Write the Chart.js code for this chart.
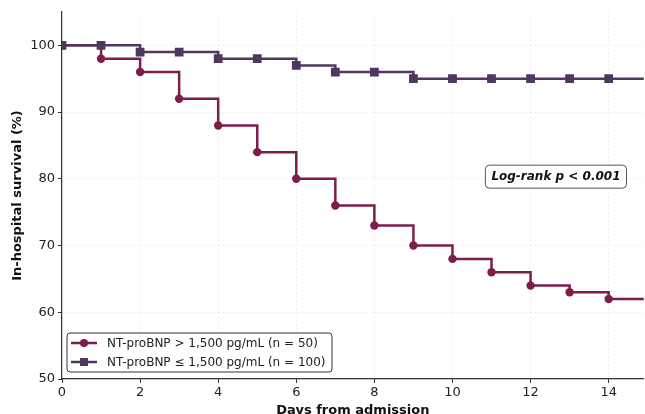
<!DOCTYPE html>
<html>
<head>
<meta charset="utf-8">
<script src="https://cdn.jsdelivr.net/npm/chart.js@4"></script>
<style>
  html, body { margin: 0; padding: 0; background: #fff; overflow: hidden; }
  #wrap { width: 645px; height: 414px; overflow: hidden; }
</style>
</head>
<body>
<div id="wrap"><canvas id="km-chart" width="650" height="414"></canvas></div>
<script>
// days since admission, survival (%) per group
var days = [0, 1, 2, 3, 4, 5, 6, 7, 8, 9, 10, 11, 12, 13, 14, 15];
var highBNP = [100, 98, 96, 92, 88, 84, 80, 76, 73, 70, 68, 66, 64, 63, 62, 62];
var lowBNP = [100, 100, 99, 99, 98, 98, 97, 96, 96, 95, 95, 95, 95, 95, 95, 95];
var seriesLabels = ["NT-proBNP > 1,500 pg/mL (n = 50)", "NT-proBNP \u2264 1,500 pg/mL (n = 100)"];
var xTicks = [0, 2, 4, 6, 8, 10, 12, 14];
var yTicks = [50, 60, 70, 80, 90, 100];
var annotationText = "Log-rank p < 0.001";

var RED = "#7d1d4a";
var PURPLE = "#4f3760";
var FONT = "'DejaVu Sans', sans-serif";

var toPoints = function(vals) {
  return days.map(function(d, i) { return { x: d, y: vals[i] }; });
};
// no marker on the final carry-forward point
var markerSize = function(r) {
  return days.map(function(d, i) { return i === days.length - 1 ? 0 : r; });
};

var overlay = {
  id: "overlay",
  afterDraw: function(chart) {
    var ctx = chart.ctx;
    var area = chart.chartArea;
    var xs = chart.scales.x, ys = chart.scales.y;

    // log-rank box
    ctx.save();
    ctx.font = "italic bold 12px " + FONT;
    var tx = xs.getPixelForValue(12.65), ty = ys.getPixelForValue(80.4);
    var tw = ctx.measureText(annotationText).width;
    ctx.beginPath();
    ctx.roundRect(tx - tw / 2 - 6, ty - 11, tw + 12, 23, 4);
    ctx.fillStyle = "#fff";
    ctx.fill();
    ctx.strokeStyle = "#555";
    ctx.lineWidth = 1;
    ctx.stroke();
    ctx.fillStyle = "#111";
    ctx.textAlign = "center";
    ctx.textBaseline = "middle";
    ctx.fillText(annotationText, tx, ty + 1);
    ctx.restore();

    // legend, lower left inside the plot
    ctx.save();
    var lx = area.left + 5, lb = area.bottom - 7;
    var bw = 265, bh = 39;
    var ly = lb - bh;
    ctx.beginPath();
    ctx.roundRect(lx, ly, bw, bh, 3);
    ctx.fillStyle = "rgba(255,255,255,0.9)";
    ctx.fill();
    ctx.strokeStyle = "#333";
    ctx.lineWidth = 1;
    ctx.stroke();
    ctx.font = "12px " + FONT;
    ctx.textBaseline = "middle";
    chart.data.datasets.forEach(function(ds, i) {
      var ry = ly + 10 + i * 19;
      ctx.strokeStyle = ds.borderColor;
      ctx.lineWidth = 2.5;
      ctx.beginPath();
      ctx.moveTo(lx + 4, ry);
      ctx.lineTo(lx + 30, ry);
      ctx.stroke();
      ctx.fillStyle = ds.borderColor;
      if (ds.pointStyle === "rect") {
        ctx.fillRect(lx + 17 - 4, ry - 4, 8, 8);
      } else {
        ctx.beginPath();
        ctx.arc(lx + 17, ry, 4, 0, Math.PI * 2);
        ctx.fill();
      }
      ctx.fillStyle = "#222";
      ctx.fillText(ds.label, lx + 40, ry + 1);
    });
    ctx.restore();
  }
};

var chart = new Chart(document.getElementById("km-chart").getContext("2d"), {
  type: "line",
  data: {
    datasets: [
      {
        label: seriesLabels[0],
        data: toPoints(highBNP),
        borderColor: RED,
        backgroundColor: RED,
        borderWidth: 2.5,
        stepped: "before",
        pointStyle: "circle",
        pointRadius: markerSize(4.2),
        pointBorderWidth: 0,
        order: 1
      },
      {
        label: seriesLabels[1],
        data: toPoints(lowBNP),
        borderColor: PURPLE,
        backgroundColor: PURPLE,
        borderWidth: 2.5,
        stepped: "before",
        pointStyle: "rect",
        pointRadius: markerSize(6.2),
        pointBorderWidth: 0,
        order: 0
      }
    ]
  },
  options: {
    responsive: false,
    animation: false,
    layout: { padding: { top: 12, right: 0, left: 0, bottom: -4 } },
    plugins: { legend: { display: false }, tooltip: { enabled: false } },
    scales: {
      x: {
        type: "linear",
        min: 0,
        max: 14.9,
        afterBuildTicks: function(scale) {
          scale.ticks = xTicks.map(function(v) { return { value: v }; });
        },
        afterFit: function(scale) { scale.height = 39; },
        ticks: { color: "#222", font: { family: FONT, size: 13 }, padding: 2, maxRotation: 0 },
        grid: { color: "rgba(0,0,0,0.09)", lineWidth: 0.8, tickLength: 4, tickColor: "#333", tickWidth: 1 },
        border: { color: "#333", width: 1.2, dash: [2, 2] },
        title: { display: true, text: "Days from admission", color: "#111", font: { family: FONT, size: 13, weight: "bold" }, padding: { top: 0, bottom: 0 } }
      },
      y: {
        min: 50,
        max: 105,
        afterBuildTicks: function(scale) {
          scale.ticks = yTicks.map(function(v) { return { value: v }; });
        },
        afterFit: function(scale) { scale.width = 62; },
        ticks: { color: "#222", font: { family: FONT, size: 13 }, padding: 3 },
        grid: { color: "rgba(0,0,0,0.09)", lineWidth: 0.8, tickLength: 4, tickColor: "#333", tickWidth: 1 },
        border: { color: "#333", width: 1.2, dash: [2, 2] },
        title: { display: true, text: "In-hospital survival (%)", color: "#111", font: { family: FONT, size: 13, weight: "bold" }, padding: { top: 10, bottom: 0 } }
      }
    }
  },
  plugins: [overlay]
});
</script>
</body>
</html>
